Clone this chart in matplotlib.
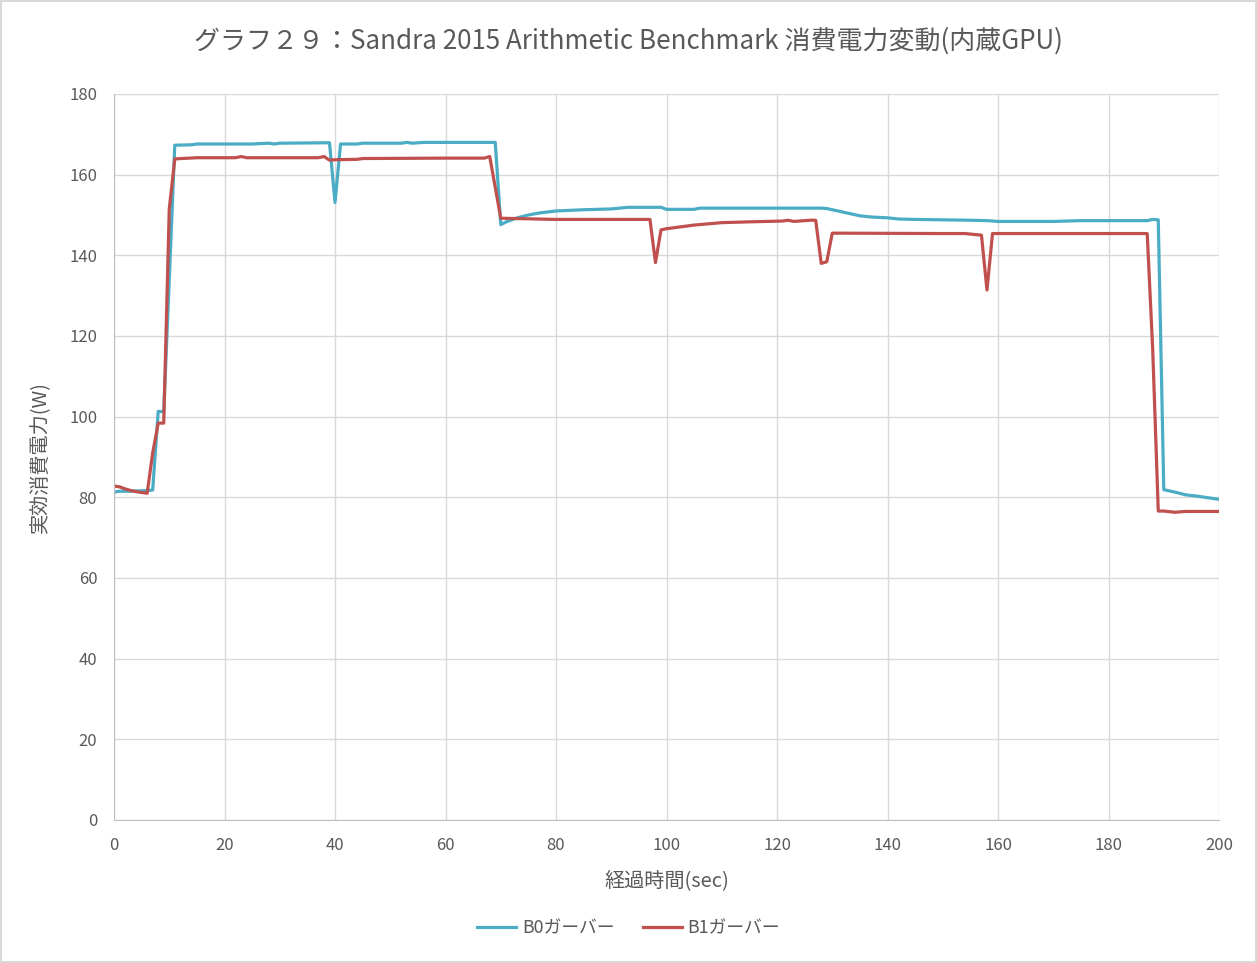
import matplotlib
matplotlib.use("Agg")
import matplotlib.pyplot as plt

plt.rcParams['font.family'] = ['Noto Sans CJK JP', 'DejaVu Sans']

# B0ガーバー (sec, W)
t_b0 = [0, 1, 2, 3, 4, 5, 6, 7, 8, 9, 10, 11, 14, 15, 25, 28, 29, 30, 38, 39,
        40, 41, 44, 45, 52, 53, 54, 56, 68, 69, 70, 71, 72, 73, 75, 77, 80, 85,
        90, 93, 99, 100, 105, 106, 128, 129, 131, 133, 135, 137, 140, 142, 145,
        150, 155, 158, 160, 165, 170, 175, 185, 187, 188, 189, 190, 192, 194,
        196, 198, 200]
w_b0 = [81.3, 81.5, 81.5, 81.5, 81.6, 81.6, 81.7, 81.8, 101.3, 101.2, 134.0,
        167.3, 167.4, 167.6, 167.6, 167.8, 167.6, 167.8, 167.9, 167.9, 153.1,
        167.6, 167.6, 167.8, 167.8, 168.0, 167.8, 168.0, 168.0, 168.0, 147.6,
        148.3, 148.8, 149.3, 150.0, 150.5, 151.0, 151.3, 151.5, 151.9, 151.9,
        151.4, 151.4, 151.7, 151.7, 151.6, 151.0, 150.4, 149.8, 149.5, 149.3,
        149.0, 148.9, 148.8, 148.7, 148.6, 148.4, 148.4, 148.4, 148.6, 148.6,
        148.6, 148.9, 148.8, 81.9, 81.3, 80.6, 80.3, 79.9, 79.5]

# B1ガーバー (sec, W)
t_b1 = [0, 1, 2, 3, 4, 5, 6, 7, 8, 9, 10, 11, 15, 22, 23, 24, 30, 37, 38, 39,
        40, 44, 45, 60, 67, 68, 70, 80, 97, 98, 99, 100, 105, 110, 115, 121,
        122, 123, 126, 127, 128, 129, 130, 150, 154, 157, 158, 159, 170, 187,
        188, 189, 190, 192, 194, 200]
w_b1 = [82.8, 82.6, 82.1, 81.7, 81.4, 81.2, 81.0, 91.0, 98.4, 98.4, 151.5,
        163.9, 164.2, 164.2, 164.5, 164.2, 164.2, 164.2, 164.5, 163.6, 163.7,
        163.8, 164.0, 164.1, 164.1, 164.5, 149.2, 148.9, 148.9, 138.2, 146.3,
        146.6, 147.5, 148.1, 148.3, 148.5, 148.7, 148.4, 148.7, 148.7, 138.0,
        138.4, 145.5, 145.4, 145.4, 145.0, 131.4, 145.4, 145.4, 145.4, 116.5,
        76.6, 76.6, 76.3, 76.5, 76.5]

xticks = list(range(0, 201, 20))
yticks = list(range(0, 181, 20))

txt = '#595959'
fig = plt.figure(figsize=(12.57, 9.63), dpi=100)
fig.patch.set_edgecolor('#d9d9d9')
fig.patch.set_linewidth(1.5)
ax = fig.add_axes([0.0907, 0.1485, 0.8791, 0.7539])

ax.plot(t_b0, w_b0, color='#4bacc6', linewidth=2.3, label='B0ガーバー')
ax.plot(t_b1, w_b1, color='#c0504d', linewidth=2.3, label='B1ガーバー')

ax.set_xlim(0, 200)
ax.set_ylim(0, 180)
ax.set_xticks(xticks)
ax.set_yticks(yticks)
ax.grid(True, color='#d9d9d9', linewidth=1)
ax.set_axisbelow(True)
for s in ['top', 'right']:
    ax.spines[s].set_visible(False)
for s in ['left', 'bottom']:
    ax.spines[s].set_color('#bfbfbf')
ax.tick_params(length=0, labelsize=12, colors=txt, pad=12)

ax.set_xlabel('経過時間(sec)', fontsize=14.5, color=txt, labelpad=12)
ax.set_ylabel('実効消費電力(W)', fontsize=14.5, color=txt, labelpad=14)
fig.suptitle('グラフ２９：Sandra 2015 Arithmetic Benchmark 消費電力変動(内蔵GPU)',
             fontsize=18.7, color=txt, y=0.972)

fig.legend(loc='lower center', ncol=2, frameon=False, fontsize=12.8,
           bbox_to_anchor=(0.5, 0.01), handlelength=2.2, handletextpad=0.3,
           columnspacing=1.6, labelcolor=txt)

fig.savefig('out.png', dpi=100, edgecolor=fig.get_edgecolor())
